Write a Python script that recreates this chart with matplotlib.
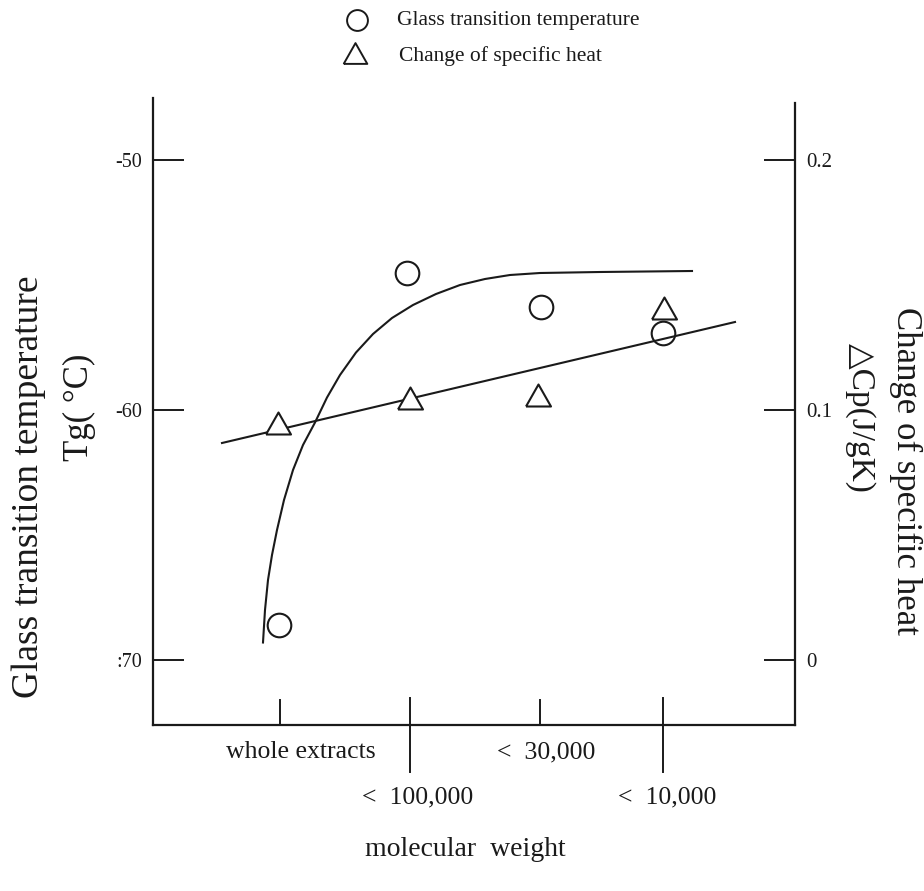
import matplotlib
matplotlib.use("Agg")
import matplotlib.pyplot as plt
import numpy as np

plt.rcParams['font.family'] = ['Liberation Serif', 'DejaVu Serif']

# ---- data (x in arbitrary position units) ----
categories = ["whole extracts", "<  100,000", "<  30,000", "<  10,000"]
cat_pos = [1.27, 2.57, 3.87, 5.10]
label_pos = [1.48, 2.65, 3.93, 5.14]
label_row = [0, 1, 0, 1]

tg_x = [1.26, 2.54, 3.88, 5.10]
tg_vals = [-68.6, -54.5, -55.9, -56.9]

cp_x = [1.25, 2.57, 3.85, 5.11]
cp_vals = [0.095, 0.105, 0.106, 0.141]

# fitted curve for Tg
tg_fit_x = [1.10, 1.12, 1.15, 1.19, 1.24, 1.31, 1.40, 1.50, 1.62, 1.74, 1.87,
            2.03, 2.20, 2.39, 2.60, 2.83, 3.07, 3.32, 3.57, 3.87, 4.47, 5.39]
tg_fit_y = [-69.3, -68.0, -66.8, -65.8, -64.8, -63.6, -62.4, -61.4, -60.5, -59.5,
            -58.6, -57.7, -56.96, -56.32, -55.8, -55.36, -55.0, -54.76, -54.6,
            -54.52, -54.48, -54.44]

# fitted straight line for delta Cp
cp_fit_x = [0.69, 5.82]
cp_fit_y = [0.0868, 0.1352]

left_ticks = [-50, -60, -70]
left_ticklabels = ["-50", "-60", ":70"]
right_ticks = [0.2, 0.1, 0.0]
right_ticklabels = ["0.2", "0.1", "0"]

W, H = 924, 891
fig = plt.figure(figsize=(W / 100, H / 100), dpi=100)
L, R, B, T = 153, 795, 725, 98
ax = fig.add_axes([L / W, 1 - B / H, (R - L) / W, (B - T) / H])
ax.set_xlim(0, 6.42)
ax.set_ylim(-72.6, -47.52)
ax2 = ax.twinx()
ax2.set_ylim(-0.026, 0.2248)

ink = '#1a1a1a'
lw = 1.6
for a in (ax, ax2):
    a.spines['top'].set_visible(False)
    for s in a.spines.values():
        s.set_linewidth(lw)
        s.set_color(ink)
ax.spines['right'].set_visible(False)
ax2.spines['left'].set_visible(False)
ax2.spines['bottom'].set_visible(False)
ax2.spines['right'].set_bounds(-0.026, 0.2228)

# left ticks (inward)
ax.set_yticks(left_ticks)
ax.set_yticklabels(left_ticklabels, fontsize=14.5, color=ink)
ax.tick_params(axis='y', direction='in', length=22, width=1.4, pad=8, color=ink)
# right ticks (inward)
ax2.set_yticks(right_ticks)
ax2.set_yticklabels(right_ticklabels, fontsize=15, color=ink)
ax2.tick_params(axis='y', direction='in', length=22, width=1.4, pad=8, color=ink)

# x ticks: short inward ones plus long crossing ones
ax.set_xticks([])
for i, p in enumerate(cat_pos):
    if label_row[i] == 0:
        ax.plot([p, p], [0, 25 / 627], transform=ax.get_xaxis_transform(),
                color=ink, lw=1.4, clip_on=False)
    else:
        ax.plot([p, p], [-47 / 627, 27 / 627], transform=ax.get_xaxis_transform(),
                color=ink, lw=1.4, clip_on=False)
    yoff = -27 / 627 if label_row[i] == 0 else -72 / 627
    ax.text(label_pos[i], yoff, categories[i], transform=ax.get_xaxis_transform(),
            ha='center', va='center', fontsize=18.5, color=ink)

# curves and markers
ax.plot(tg_fit_x, tg_fit_y, color=ink, lw=1.5)
ax2.plot(cp_fit_x, cp_fit_y, color=ink, lw=1.5)

ax.plot(tg_x, tg_vals, linestyle='none', marker='o', markersize=17,
        markerfacecolor='white', markeredgecolor=ink, markeredgewidth=1.5, zorder=5)
tri = [(-1, -0.88), (1, -0.88), (0, 0.88), (-1, -0.88)]
ax2.plot(cp_x, cp_vals, linestyle='none', marker=tri, markersize=18,
         markerfacecolor='white', markeredgecolor=ink, markeredgewidth=1.5, zorder=5)

# axis labels
fig.text(29 / W, 1 - 487 / H, "Glass transition temperature", rotation=90,
         ha='center', va='center', fontsize=27, color=ink)
fig.text(79 / W, 1 - 407 / H, "Tg( °C)", rotation=90,
         ha='center', va='center', fontsize=25, color=ink)
fig.text(906 / W, 1 - 471 / H, "Change of specific heat", rotation=-90,
         ha='center', va='center', fontsize=25, color=ink)
fig.text(860 / W, 1 - 418 / H, "△Cp(J/gK)", rotation=-90,
         ha='center', va='center', fontsize=24, color=ink,
         family=['Liberation Serif', 'DejaVu Sans'])
fig.text(465 / W, 1 - 850 / H, "molecular  weight", ha='center', va='center',
         fontsize=20, color=ink)

# legend
leg = fig.add_axes([0, 0, 1, 1], facecolor='none')
leg.set_xlim(0, W)
leg.set_ylim(H, 0)
leg.axis('off')
leg.plot([357], [20], linestyle='none', marker='o', markersize=15,
         markerfacecolor='white', markeredgecolor=ink, markeredgewidth=1.4)
leg.plot([355], [53], linestyle='none', marker=tri, markersize=17,
         markerfacecolor='white', markeredgecolor=ink, markeredgewidth=1.4)
leg.text(397, 20, "Glass transition temperature", ha='left', va='center',
         fontsize=15.5, color=ink)
leg.text(399, 56, "Change of specific heat", ha='left', va='center',
         fontsize=15.5, color=ink)

fig.savefig("out.png", dpi=100)
